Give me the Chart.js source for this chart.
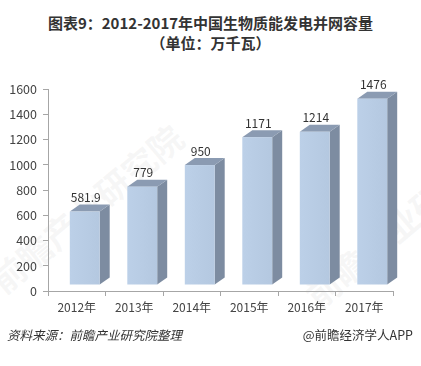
<!DOCTYPE html>
<html>
<head>
<meta charset="utf-8">
<script src="https://cdn.jsdelivr.net/npm/chart.js@4"></script>
<style>
  html, body { margin: 0; padding: 0; background: #fff; }
  .wrap { position: relative; width: 421px; height: 366px; overflow: hidden; font-family: "Noto Sans CJK SC", sans-serif; }
  .title { position: absolute; left: 0; width: 421px; text-align: center; font-weight: bold; font-size: 15px; color: #333; line-height: 20px; }
  .foot { position: absolute; top: 325px; font-size: 12.5px; color: #333; }
  .wm { position: absolute; color: rgba(190, 190, 190, 0.13); font-weight: bold; white-space: nowrap; transform-origin: left center; }
  canvas { position: absolute; left: 0; top: 0; }
</style>
</head>
<body>
<div class="wrap">
  <div class="wm" style="left:-5px;top:260px;font-size:34px;transform:rotate(-40deg)">前瞻产业研究院</div>
  <div class="wm" style="left:310px;top:275px;font-size:34px;transform:rotate(-40deg)">前瞻产业研究院</div>
  <div class="title" style="top:13px">图表9：2012-2017年中国生物质能发电并网容量</div>
  <div class="title" style="top:33px">（单位：万千瓦）</div>
  <canvas id="myChart" width="421" height="366"></canvas>
  <div class="foot" style="left:7px;font-style:italic">资料来源：前瞻产业研究院整理</div>
  <div class="foot" style="right:8px">@前瞻经济学人APP</div>
</div>
<script>
const years = ['2012年', '2013年', '2014年', '2015年', '2016年', '2017年'];
const capacity = [581.9, 779, 950, 1171, 1214, 1476];
const valueLabels = ['581.9', '779', '950', '1171', '1214', '1476'];
const yTicks = [0, 200, 400, 600, 800, 1000, 1200, 1400, 1600];

// 3d look: front face shifted, plus a top and a right side
const shiftX = 8, shiftY = -6, depthX = 10, depthY = -7;

const bars3d = {
  id: 'bars3d',
  afterDatasetsDraw(chart) {
    const ctx = chart.ctx;
    const meta = chart.getDatasetMeta(0);
    ctx.save();
    meta.data.forEach((bar, i) => {
      const w = bar.width;
      const l = bar.x - w / 2 + shiftX;
      const r = l + w;
      const t = bar.y + shiftY;
      const b = bar.base + shiftY;

      // side
      ctx.fillStyle = '#7d8ca1';
      ctx.beginPath();
      ctx.moveTo(r, t);
      ctx.lineTo(r + depthX, t + depthY);
      ctx.lineTo(r + depthX, b + depthY);
      ctx.lineTo(r, b);
      ctx.closePath();
      ctx.fill();

      // top
      ctx.fillStyle = '#8b9bb2';
      ctx.beginPath();
      ctx.moveTo(l, t);
      ctx.lineTo(l + depthX, t + depthY);
      ctx.lineTo(r + depthX, t + depthY);
      ctx.lineTo(r, t);
      ctx.closePath();
      ctx.fill();

      // front
      const g = ctx.createLinearGradient(l, 0, r, 0);
      g.addColorStop(0, '#bcd0e8');
      g.addColorStop(1, '#b4c8e0');
      ctx.fillStyle = g;
      ctx.fillRect(l, t, w, b - t);

      // value
      ctx.fillStyle = '#333';
      ctx.font = '12px "Noto Sans CJK SC", sans-serif';
      ctx.textAlign = 'center';
      ctx.textBaseline = 'middle';
      ctx.fillText(valueLabels[i], l + w / 2 + 1, t - 14);
    });
    ctx.restore();
  }
};

new Chart(document.getElementById('myChart').getContext('2d'), {
  type: 'bar',
  data: {
    labels: years,
    datasets: [{
      data: capacity,
      backgroundColor: 'rgba(0,0,0,0)',
      barPercentage: 0.52,
      categoryPercentage: 1
    }]
  },
  options: {
    responsive: false,
    animation: false,
    layout: { padding: { left: 0, right: 28, top: 89, bottom: 0 } },
    plugins: { legend: { display: false }, tooltip: { enabled: false } },
    scales: {
      x: {
        grid: { drawOnChartArea: false, drawTicks: true, tickLength: 5, color: '#a6a6a6' },
        border: { color: '#a6a6a6' },
        ticks: { color: '#444', padding: 4, font: { size: 12, family: '"Noto Sans CJK SC", sans-serif' } },
        afterFit: s => { s.height = 75; }
      },
      y: {
        min: 0,
        max: 1600,
        afterBuildTicks: s => { s.ticks = yTicks.map(v => ({ value: v })); },
        grid: { drawOnChartArea: false, drawTicks: true, tickLength: 5, color: '#a6a6a6' },
        border: { color: '#a6a6a6' },
        ticks: {
          color: '#444',
          padding: 6,
          font: { size: 12.5, family: '"Noto Sans CJK SC", sans-serif' },
          callback: v => String(v)
        },
        afterFit: s => { s.width = 48; }
      }
    }
  },
  plugins: [bars3d]
});
</script>
</body>
</html>
